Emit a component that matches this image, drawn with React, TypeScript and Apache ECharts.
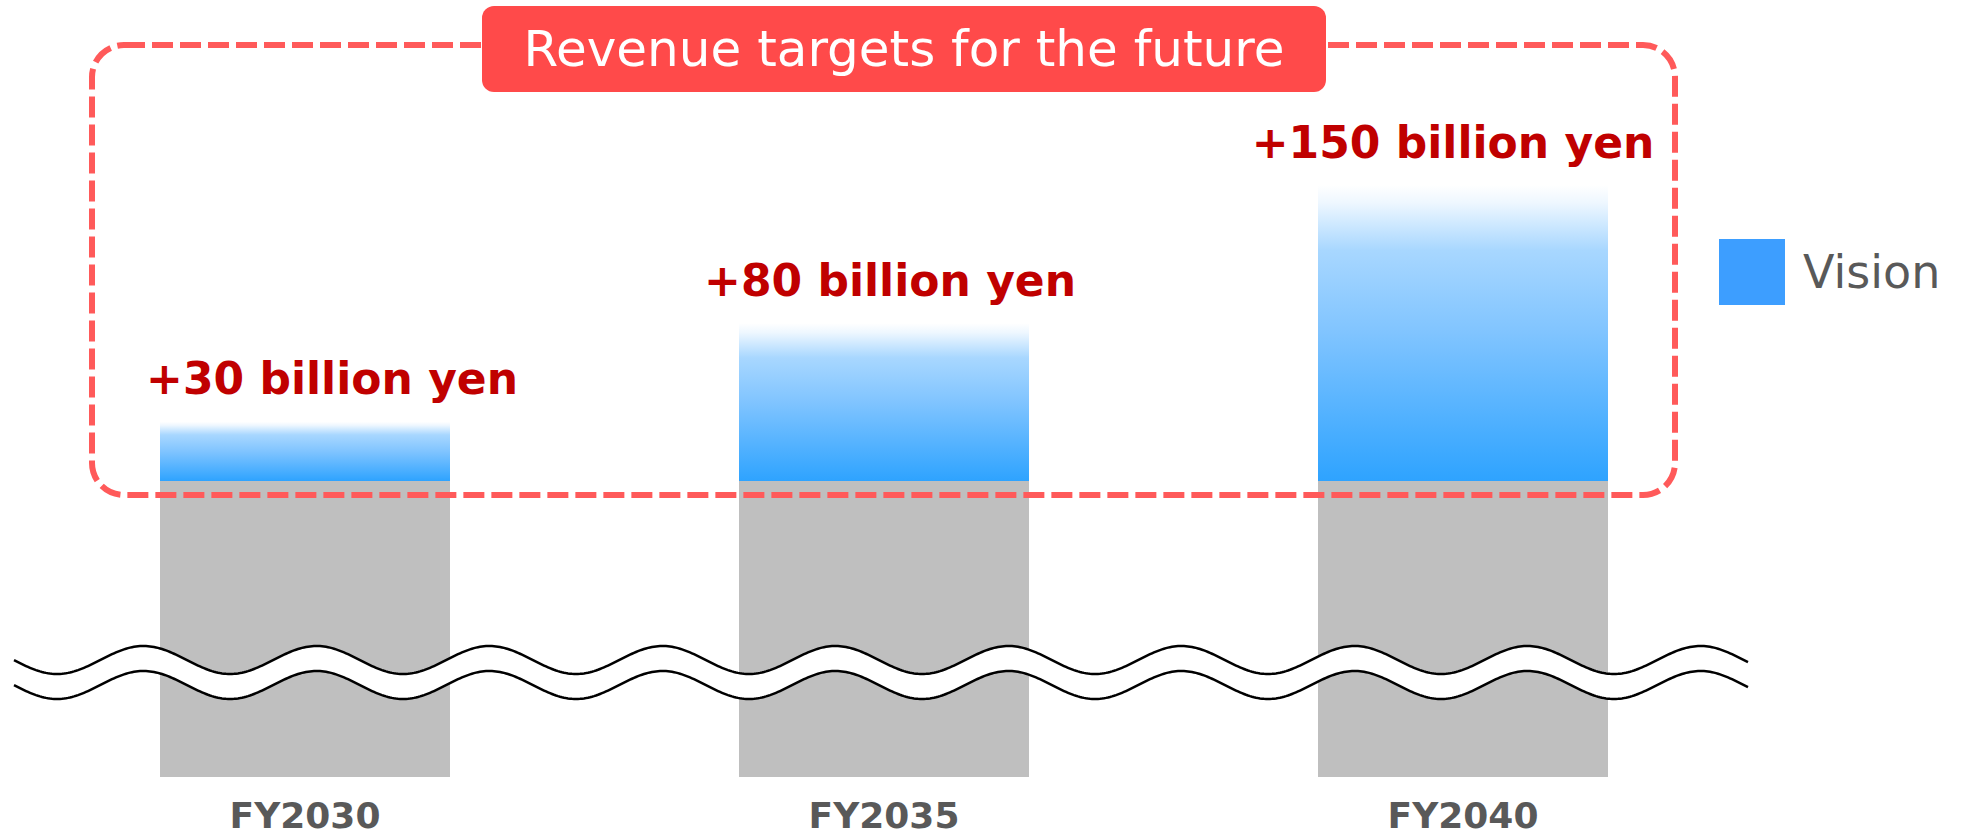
import React, { useEffect, useRef } from "react";
import * as echarts from "echarts";

const categories = ["FY2030", "FY2035", "FY2040"];
const baseValues = [150, 150, 150];
const visionValues = [30, 80, 150];
const seriesNames = ["Current", "Vision"];
const titleText = "Revenue targets for the future";
const labelShiftX = [27, 6, -10];

function wavePoints(cy: number, x0: number, x1: number): number[][] {
  const pts: number[][] = [];
  const A = 14;
  const period = 173;
  const peakX = 143.5;
  for (let x = x0; x <= x1; x += 2) {
    pts.push([x, cy - A * Math.cos((2 * Math.PI * (x - peakX)) / period)]);
  }
  return pts;
}

export default function App() {
  const ref = useRef<HTMLDivElement>(null);
  useEffect(() => {
    document.body.style.margin = "0";
    const chart = echarts.init(ref.current!, null, { renderer: "svg" });
    const top = wavePoints(660, 14, 1748);
    const bottom = wavePoints(685, 14, 1748);
    const band = top.concat(bottom.slice().reverse());
    chart.setOption({
      animation: false,
      backgroundColor: "#ffffff",
      grid: { left: 15.5, right: 208.5, top: 185, bottom: 61, containLabel: false },
      legend: {
        left: 1719,
        top: 239,
        padding: 0,
        itemWidth: 66,
        itemHeight: 66,
        data: [{ name: seriesNames[1], icon: "rect", itemStyle: { color: "#3D9EFF" } }],
        textStyle: {
          fontSize: 46,
          color: "#595959",
          fontFamily: "DejaVu Sans",
          padding: [0, 0, 0, 13],
        },
      },
      xAxis: {
        type: "category",
        data: categories,
        axisLine: { show: false },
        axisTick: { show: false },
        axisLabel: {
          margin: 20,
          fontSize: 36,
          fontWeight: "bold",
          color: "#595959",
          fontFamily: "DejaVu Sans",
        },
      },
      yAxis: {
        type: "value",
        min: 0,
        max: 300,
        show: false,
        splitLine: { show: false },
      },
      series: [
        {
          name: seriesNames[0],
          type: "bar",
          stack: "total",
          barWidth: 290,
          data: baseValues,
          itemStyle: { color: "#BFBFBF" },
        },
        {
          name: seriesNames[1],
          type: "bar",
          stack: "total",
          barWidth: 290,
          data: visionValues.map((v, i) => ({
            value: v,
            label: { offset: [labelShiftX[i], 0] },
          })),
          itemStyle: {
            color: new echarts.graphic.LinearGradient(0, 0, 0, 1, [
              { offset: 0, color: "#ffffff" },
              { offset: 0.06, color: "#eef7ff" },
              { offset: 0.22, color: "#a8d7ff" },
              { offset: 0.5, color: "#80c4ff" },
              { offset: 1, color: "#2ea3ff" },
            ]),
          },
          label: {
            show: true,
            position: "top",
            distance: 21,
            formatter: (p: any) => `+${p.value} billion yen`,
            fontSize: 44,
            fontWeight: "bold",
            color: "#C00000",
            fontFamily: "DejaVu Sans",
          },
        },
      ],
      graphic: [
        {
          type: "polygon",
          z: 10,
          shape: { points: band },
          style: { fill: "#ffffff", stroke: "none" },
        },
        {
          type: "polyline",
          z: 11,
          shape: { points: top },
          style: { stroke: "#000000", lineWidth: 2.5, fill: "none" },
        },
        {
          type: "polyline",
          z: 11,
          shape: { points: bottom },
          style: { stroke: "#000000", lineWidth: 2.5, fill: "none" },
        },
        {
          type: "rect",
          z: 12,
          shape: { x: 92, y: 45, width: 1583, height: 450, r: 32 },
          style: { fill: "none", stroke: "#FF5A5A", lineWidth: 6, lineDash: [21, 7] },
        },
        {
          type: "rect",
          z: 13,
          shape: { x: 482, y: 6, width: 844, height: 86, r: 12 },
          style: { fill: "#FF4A4A" },
        },
        {
          type: "text",
          z: 14,
          x: 904,
          y: 49,
          style: {
            text: titleText,
            fill: "#ffffff",
            fontSize: 50,
            fontFamily: "DejaVu Sans",
            align: "center",
            verticalAlign: "middle",
          },
        },
      ],
    });
    return () => chart.dispose();
  }, []);
  return <div ref={ref} style={{ width: 1961, height: 838 }} />;
}
